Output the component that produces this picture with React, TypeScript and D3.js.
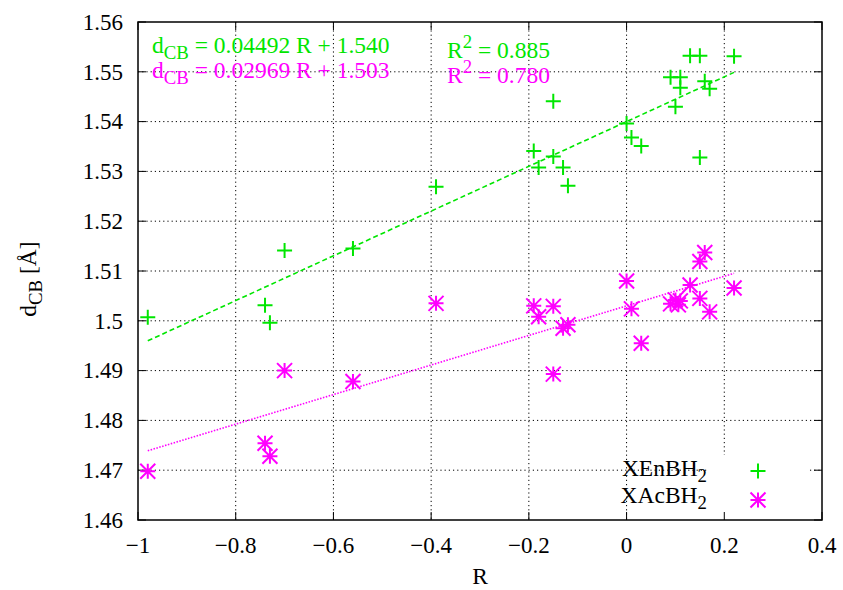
import React, { useEffect, useRef } from "react";
import * as d3 from "d3";

const xTicks = [-1, -0.8, -0.6, -0.4, -0.2, 0, 0.2, 0.4];
const yTicks = [1.46, 1.47, 1.48, 1.49, 1.5, 1.51, 1.52, 1.53, 1.54, 1.55, 1.56];
const yTickLabels = ["1.46", "1.47", "1.48", "1.49", "1.5", "1.51", "1.52", "1.53", "1.54", "1.55", "1.56"];

const enR = [-0.98, -0.74, -0.73, -0.70, -0.56, -0.39, -0.19, -0.18, -0.15, -0.15, -0.13, -0.12, 0.00, 0.01, 0.03, 0.09, 0.10, 0.11, 0.11, 0.13, 0.15, 0.15, 0.16, 0.17, 0.22];
const enD = [1.5007, 1.5031, 1.4996, 1.5141, 1.5145, 1.5269, 1.5341, 1.5308, 1.5441, 1.5330, 1.5308, 1.5271, 1.5396, 1.5368, 1.5351, 1.5489, 1.5430, 1.5489, 1.5468, 1.5532, 1.5532, 1.5328, 1.5481, 1.5466, 1.5531];
const acR = [-0.98, -0.74, -0.73, -0.70, -0.56, -0.39, -0.19, -0.18, -0.15, -0.15, -0.13, -0.12, 0.00, 0.01, 0.03, 0.09, 0.10, 0.11, 0.106, 0.13, 0.15, 0.15, 0.16, 0.17, 0.22];
const acD = [1.4698, 1.4754, 1.4728, 1.4900, 1.4878, 1.5035, 1.5030, 1.5008, 1.5029, 1.4893, 1.4985, 1.4992, 1.5080, 1.5024, 1.4955, 1.5034, 1.5042, 1.5040, 1.5032, 1.5072, 1.5119, 1.5045, 1.5137, 1.5018, 1.5066];

const fitEn = { slope: 0.04492, intercept: 1.540 };
const fitAc = { slope: 0.02969, intercept: 1.503 };
const fitRange = [-0.98, 0.22];

const GREEN = "#00e600";
const MAGENTA = "#ff00ff";
const FONT = "Liberation Serif, Times New Roman, serif";
const FS = 23.5;
const SUB = FS * 0.8;

export default function App() {
  const ref = useRef<SVGSVGElement>(null);

  useEffect(() => {
    const svg = d3.select(ref.current);
    svg.selectAll("*").remove();
    const W = 843, H = 590;
    const L = 138, R = 822, T = 22, B = 520;
    const x = d3.scaleLinear().domain([-1, 0.4]).range([L, R]);
    const y = d3.scaleLinear().domain([1.46, 1.56]).range([B, T]);

    svg.append("rect").attr("width", W).attr("height", H).attr("fill", "white");

    const g = svg.append("g").style("font-family", FONT);
    // grid
    xTicks.slice(1, -1).forEach((t) => {
      g.append("line").attr("x1", x(t)).attr("x2", x(t)).attr("y1", T).attr("y2", B)
        .attr("stroke", "#000").attr("stroke-width", 1).attr("stroke-dasharray", "1.2,3");
    });
    yTicks.slice(1, -1).forEach((t) => {
      g.append("line").attr("x1", L).attr("x2", R).attr("y1", y(t)).attr("y2", y(t))
        .attr("stroke", "#000").attr("stroke-width", 1).attr("stroke-dasharray", "1.2,3");
    });
    // legend mask over grid
    g.append("rect").attr("x", 708).attr("y", 455).attr("width", 100).attr("height", B - 455 - 1).attr("fill", "white");

    // ticks
    const tl = 8;
    xTicks.forEach((t) => {
      g.append("line").attr("x1", x(t)).attr("x2", x(t)).attr("y1", B).attr("y2", B - tl).attr("stroke", "#000").attr("stroke-width", 1);
      g.append("line").attr("x1", x(t)).attr("x2", x(t)).attr("y1", T).attr("y2", T + tl).attr("stroke", "#000").attr("stroke-width", 1);
    });
    yTicks.forEach((t) => {
      g.append("line").attr("x1", L).attr("x2", L + tl).attr("y1", y(t)).attr("y2", y(t)).attr("stroke", "#000").attr("stroke-width", 1);
      g.append("line").attr("x1", R).attr("x2", R - tl).attr("y1", y(t)).attr("y2", y(t)).attr("stroke", "#000").attr("stroke-width", 1);
    });

    // tick labels
    xTicks.forEach((t) => {
      g.append("text").attr("x", x(t)).attr("y", 553).attr("text-anchor", "middle")
        .attr("font-size", 23)
        .text(t === 0 ? "0" : d3.format("")(t).replace("-", "−"));
    });
    yTicks.forEach((t, i) => {
      g.append("text").attr("x", 123).attr("y", y(t) + 7.8).attr("text-anchor", "end")
        .attr("font-size", 23).text(yTickLabels[i]);
    });

    // fit lines
    g.append("path").datum(fitRange)
      .attr("d", d3.line<number>().x((r) => x(r)).y((r) => y(fitEn.slope * r + fitEn.intercept)))
      .attr("fill", "none").attr("stroke", GREEN).attr("stroke-width", 1.6).attr("stroke-dasharray", "5,3");
    g.append("path").datum(fitRange)
      .attr("d", d3.line<number>().x((r) => x(r)).y((r) => y(fitAc.slope * r + fitAc.intercept)))
      .attr("fill", "none").attr("stroke", MAGENTA).attr("stroke-width", 1.6).attr("stroke-dasharray", "1.5,1.5");

    const s = 7.5;
    const plus = (sel: any, cx: number, cy: number) => {
      sel.append("path").attr("d", `M${cx - s},${cy}H${cx + s}M${cx},${cy - s}V${cy + s}`)
        .attr("stroke", GREEN).attr("stroke-width", 2).attr("fill", "none");
    };
    const star = (sel: any, cx: number, cy: number) => {
      sel.append("path").attr("d",
        `M${cx - s},${cy}H${cx + s}M${cx},${cy - s}V${cy + s}M${cx - s},${cy - s}L${cx + s},${cy + s}M${cx - s},${cy + s}L${cx + s},${cy - s}`)
        .attr("stroke", MAGENTA).attr("stroke-width", 2).attr("fill", "none");
    };
    enR.forEach((r, i) => plus(g, x(r), y(enD[i])));
    acR.forEach((r, i) => star(g, x(r), y(acD[i])));

    // border
    g.append("rect").attr("x", L).attr("y", T).attr("width", R - L).attr("height", B - T)
      .attr("fill", "none").attr("stroke", "#000").attr("stroke-width", 1.5);

    // equation labels
    const eq = (tx: number, ty: number, color: string, parts: [string, string][]) => {
      const t = g.append("text").attr("x", tx).attr("y", ty).attr("font-size", FS).attr("fill", color);
      let shift = 0;
      parts.forEach(([kind, str]) => {
        const ts = t.append("tspan").text(str);
        let target = 0;
        if (kind === "sub") { target = 6; ts.attr("font-size", SUB); }
        else if (kind === "sup") { target = -10; ts.attr("font-size", SUB); }
        ts.attr("dy", target - shift);
        shift = target;
      });
    };
    eq(152, 53, GREEN, [["n", "d"], ["sub", "CB"], ["n", " = 0.04492 R + 1.540"]]);
    eq(152, 78, MAGENTA, [["n", "d"], ["sub", "CB"], ["n", " = 0.02969 R + 1.503"]]);
    eq(447, 58, GREEN, [["n", "R"], ["sup", "2"], ["n", " = 0.885"]]);
    eq(447, 83, MAGENTA, [["n", "R"], ["sup", "2"], ["n", " = 0.780"]]);

    // legend
    const leg = (ty: number, label: string) => {
      const t = g.append("text").attr("x", 707).attr("y", ty).attr("text-anchor", "end")
        .attr("font-size", FS).attr("fill", "#000");
      t.append("tspan").text(label);
      t.append("tspan").attr("dy", 6).attr("font-size", SUB).text("2");
    };
    leg(476, "XEnBH");
    leg(503, "XAcBH");
    plus(g, 758, 471);
    star(g, 758, 500);

    // axis titles
    g.append("text").attr("x", 480).attr("y", 584).attr("text-anchor", "middle")
      .attr("font-size", FS).text("R");
    const yl = g.append("text").attr("transform", "translate(36,279) rotate(-90)").attr("text-anchor", "middle")
      .attr("font-size", FS);
    yl.append("tspan").text("d");
    yl.append("tspan").attr("dy", 6).attr("font-size", SUB).text("CB");
    yl.append("tspan").attr("dy", -6).text(" [Å]");
  }, []);

  return (
    <svg ref={ref} width={843} height={590} style={{ position: "absolute", left: 0, top: 0, display: "block" }} />
  );
}
